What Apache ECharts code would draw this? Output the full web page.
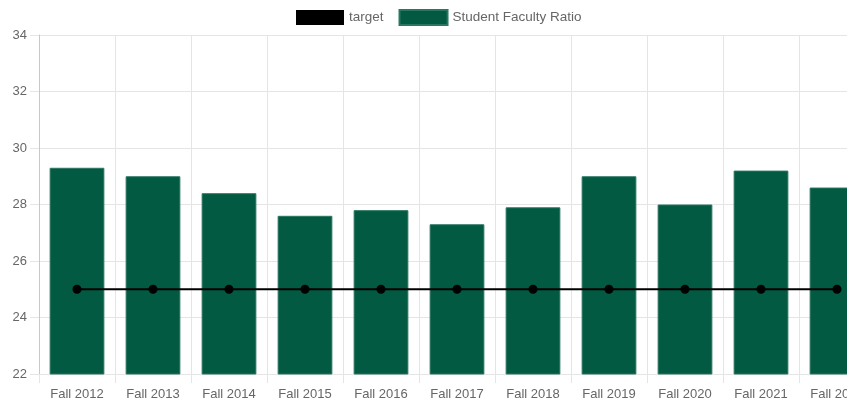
<!DOCTYPE html>
<html>
<head>
<meta charset="utf-8">
<script src="https://cdn.jsdelivr.net/npm/echarts@6/dist/echarts.min.js"></script>
<style>
html,body{margin:0;padding:0;background:#fff;overflow:hidden;width:847px;height:406px;}
#chart{width:875px;height:406px;}
</style>
</head>
<body>
<div id="chart"></div>
<script>
const categories = ["Fall 2012","Fall 2013","Fall 2014","Fall 2015","Fall 2016","Fall 2017","Fall 2018","Fall 2019","Fall 2020","Fall 2021","Fall 2022"];
const ratioValues = [29.3, 29.0, 28.4, 27.6, 27.8, 27.3, 27.9, 29.0, 28.0, 29.2, 28.6];
const targetValues = [25, 25, 25, 25, 25, 25, 25, 25, 25, 25, 25];
const yTicks = [22, 24, 26, 28, 30, 32, 34];

const FONT = "'Liberation Sans', Arial, sans-serif";
const chart = echarts.init(document.getElementById('chart'), null, {renderer: 'canvas'});
chart.setOption({
  animation: false,
  textStyle: {fontFamily: FONT},
  legend: {
    top: 4,
    left: 291,
    itemWidth: 48,
    itemHeight: 15,
    itemGap: 15,
    icon: 'rect',
    textStyle: {color: '#666', fontSize: 13.5, fontFamily: FONT},
    data: [
      {name: 'target', icon: 'rect', itemStyle: {color: '#000'}},
      {name: 'Student Faculty Ratio', icon: 'rect'}
    ]
  },
  grid: {left: 39, top: 35, bottom: 32, right: 0, containLabel: false},
  xAxis: {
    type: 'category',
    data: categories,
    boundaryGap: true,
    axisLine: {show: true, lineStyle: {color: '#e5e5e5', width: 1}},
    axisTick: {show: true, length: 9, alignWithLabel: false, lineStyle: {color: '#e5e5e5'}},
    axisLabel: {color: '#666', fontSize: 13, fontFamily: FONT, margin: 14, interval: 0},
    splitLine: {show: true, lineStyle: {color: '#e5e5e5', width: 1}}
  },
  yAxis: {
    type: 'value',
    min: yTicks[0],
    max: yTicks[yTicks.length - 1],
    interval: 2,
    axisLine: {show: true, lineStyle: {color: '#c8c8c8', width: 1}},
    axisTick: {show: true, length: 9, lineStyle: {color: '#e5e5e5'}},
    axisLabel: {color: '#666', fontSize: 13, fontFamily: FONT, margin: 12},
    splitLine: {show: true, lineStyle: {color: '#e5e5e5', width: 1}}
  },
  series: [
    {
      name: 'Student Faculty Ratio',
      type: 'bar',
      data: ratioValues,
      barWidth: '72%',
      itemStyle: {color: '#015a41', borderColor: '#2b7660', borderWidth: 1},
      z: 2
    },
    {
      name: 'target',
      type: 'line',
      data: targetValues,
      symbol: 'circle',
      symbolSize: 9,
      itemStyle: {color: '#000'},
      lineStyle: {color: '#000', width: 2},
      z: 3
    }
  ]
});
</script>
</body>
</html>
